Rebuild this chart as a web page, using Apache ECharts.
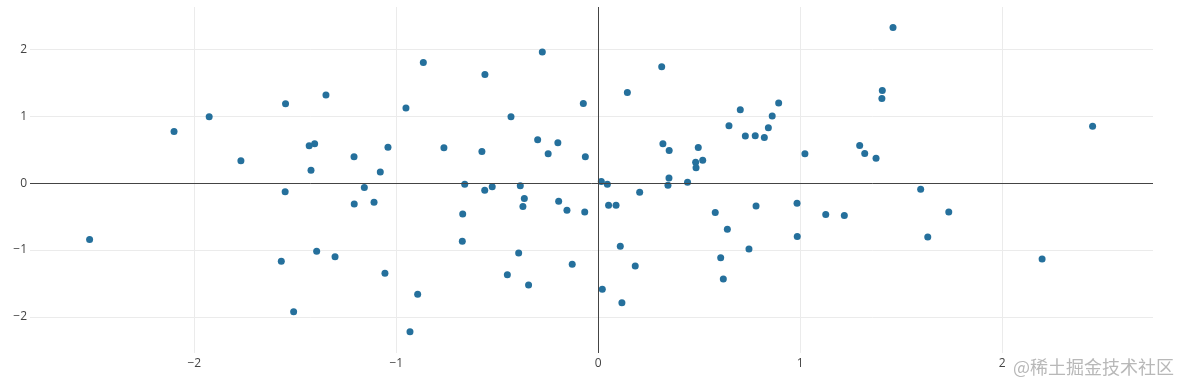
<!DOCTYPE html>
<html>
<head>
<meta charset="utf-8">
<script src="https://cdn.jsdelivr.net/npm/echarts@6/dist/echarts.min.js"></script>
<style>
html,body{margin:0;padding:0;background:#fff;}
#chart{width:1178px;height:384px;}
</style>
</head>
<body>
<div id="chart"></div>
<script>
const xValues = [-2.518,-2.100,-1.926,-1.769,-1.548,-1.550,-1.569,-1.508,-1.431,-1.404,-1.422,-1.394,-1.348,-1.303,-1.209,-1.208,-1.158,-1.110,-1.079,-1.056,-1.041,
-0.866,-0.952,-0.894,-0.932,-0.764,-0.561,-0.576,-0.661,-0.671,-0.673,-0.562,-0.525,-0.432,-0.450,-0.394,-0.386,-0.366,-0.373,-0.345,-0.277,-0.300,-0.248,-0.200,-0.196,-0.155,-0.129,-0.074,-0.064,-0.067,
0.015,0.045,0.020,0.051,0.088,0.109,0.117,0.144,0.183,0.205,0.314,0.320,0.351,0.350,0.345,0.442,0.482,0.484,0.495,0.517,0.579,0.606,0.619,0.639,0.647,0.703,0.728,0.746,0.777,0.781,0.822,0.842,0.861,0.893,
0.984,0.985,1.023,1.126,1.218,1.294,1.319,1.375,1.404,1.406,1.459,1.596,1.631,1.735,2.197,2.447];
const yValues = [-0.844,0.772,0.993,0.334,1.187,-0.130,-1.168,-1.922,0.558,0.588,0.195,-1.018,1.317,-1.099,0.394,-0.310,-0.066,-0.284,0.169,-1.347,0.539,
1.806,1.123,-1.662,-2.222,0.528,1.626,0.473,-0.015,-0.460,-0.868,-0.105,-0.055,0.993,-1.368,-1.043,-0.040,-0.230,-0.350,-1.522,1.961,0.648,0.439,0.603,-0.270,-0.405,-1.213,1.192,0.394,-0.430,
0.024,-0.015,-1.587,-0.329,-0.329,-0.943,-1.787,1.356,-1.238,-0.135,1.741,0.588,0.488,0.079,-0.030,0.015,0.314,0.229,0.533,0.344,-0.440,-1.114,-1.433,-0.689,0.858,1.097,0.704,-0.984,0.708,-0.340,0.683,0.828,1.003,1.198,
-0.299,-0.799,0.439,-0.470,-0.485,0.563,0.443,0.374,1.266,1.386,2.329,-0.090,-0.804,-0.430,-1.133,0.853];
const watermarkText = '@稀土掘金技术社区';

const points = xValues.map((x, i) => [x, yValues[i]]);
const chart = echarts.init(document.getElementById('chart'), null, {renderer: 'canvas'});
const fmt = v => (v < 0 ? '\u2212' + Math.abs(v) : String(v));
const labelStyle = {color: '#444', fontFamily: '"Open Sans", Arial, sans-serif', fontSize: 12, formatter: fmt};
chart.setOption({
  animation: false,
  backgroundColor: '#fff',
  grid: {left: 30, right: 25, top: 7, bottom: 31, containLabel: false},
  xAxis: {
    type: 'value', min: -2.813, max: 2.746, splitNumber: 5,
    axisLine: {show: false, onZero: false},
    axisTick: {show: false},
    axisLabel: Object.assign({margin: 5, showMinLabel: false, showMaxLabel: false}, labelStyle),
    splitLine: {show: true, showMinLine: false, showMaxLine: false, lineStyle: {color: '#ebebeb', width: 1}}
  },
  yAxis: {
    type: 'value', min: -2.54, max: 2.635, splitNumber: 5,
    axisLine: {show: false, onZero: false},
    axisTick: {show: false},
    axisLabel: Object.assign({margin: 3, showMinLabel: false, showMaxLabel: false}, labelStyle),
    splitLine: {show: true, showMinLine: false, showMaxLine: false, lineStyle: {color: '#ebebeb', width: 1}}
  },
  series: [{
    type: 'scatter',
    data: points,
    symbolSize: 7,
    itemStyle: {color: '#25709c', opacity: 1},
    markLine: {
      silent: true, symbol: 'none', animation: false,
      label: {show: false},
      lineStyle: {color: '#444', width: 1, type: 'solid'},
      data: [{xAxis: 0}, {yAxis: 0}]
    },
    z: 3
  }],
  graphic: [{
    type: 'text', right: 4, bottom: 8,
    style: {text: watermarkText, fill: '#b8b8b8', font: '18px "Noto Sans CJK SC", sans-serif'}
  }]
});
</script>
</body>
</html>
